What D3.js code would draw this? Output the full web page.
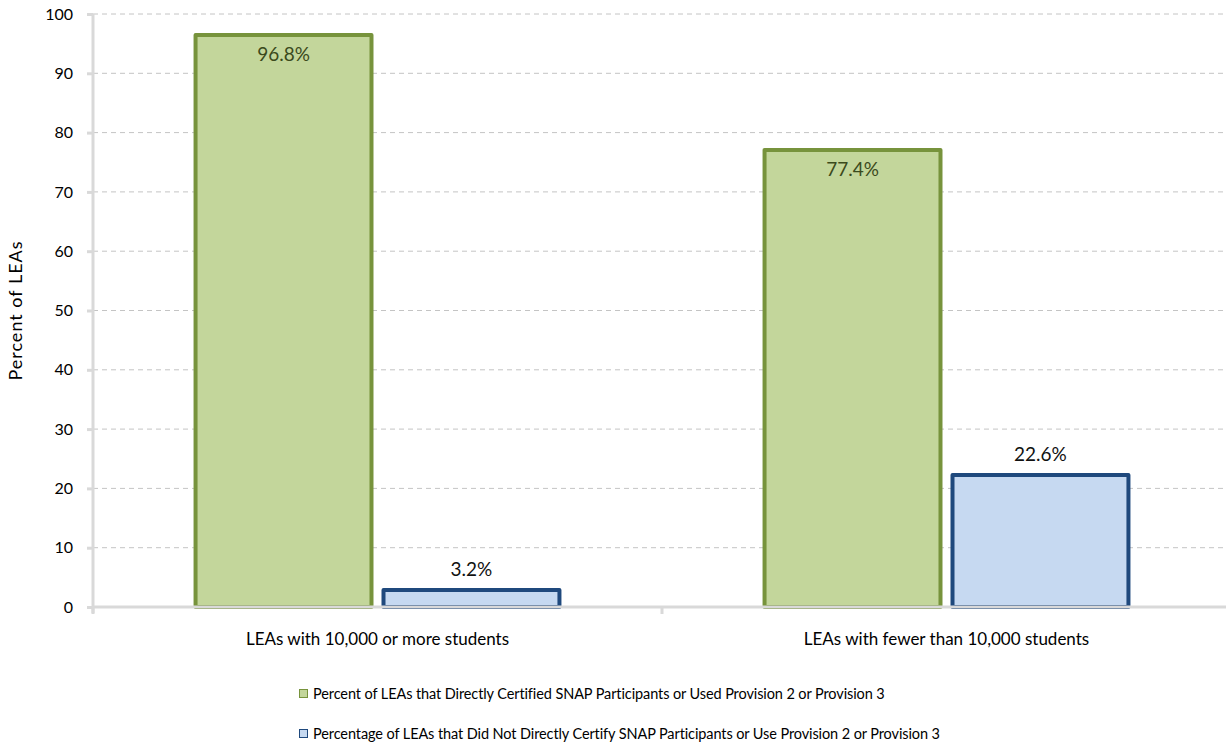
<!DOCTYPE html>
<html>
<head>
<meta charset="utf-8">
<script src="https://cdn.jsdelivr.net/npm/d3@7/dist/d3.min.js"></script>
<style>
  html, body { margin: 0; padding: 0; background: #fff; }
  svg { display: block; font-family: Lato, "Open Sans", sans-serif; }
</style>
</head>
<body>
<svg id="chart" width="1226" height="746"></svg>
<script>
// Chart data
const categories = ["LEAs with 10,000 or more students", "LEAs with fewer than 10,000 students"];
const seriesNames = [
  "Percent of LEAs that Directly Certified SNAP Participants or Used Provision 2 or Provision 3",
  "Percentage of LEAs that Did Not Directly Certify SNAP Participants or Use Provision 2 or Provision 3"
];
const certifiedValues = [96.8, 77.4];
const notCertifiedValues = [3.2, 22.6];
const yTicks = [0, 10, 20, 30, 40, 50, 60, 70, 80, 90, 100];

const seriesStyle = [
  { fill: "#c3d69b", stroke: "#77933c", label: "#3b4a1c", inside: true },
  { fill: "#c6d9f1", stroke: "#1f497d", label: "#111111", inside: false }
];
const seriesValues = [certifiedValues, notCertifiedValues];

const svg = d3.select("#chart");
const margin = { left: 93, right: -5, top: 14, bottom: 139 };
const W = 1226, H = 746;

const x0 = d3.scaleBand().domain(categories).range([margin.left, W - margin.right]).paddingInner(0).paddingOuter(0);
const x1 = d3.scaleBand().domain([0, 1]).range([0, x0.bandwidth()]).paddingInner(0.0426).paddingOuter(0.535);
const y = d3.scaleLinear().domain([0, 100]).range([H - margin.bottom, margin.top]);

// Gridlines
svg.append("g").selectAll("line").data(yTicks.filter(d => d > 0)).join("line")
  .attr("x1", margin.left).attr("x2", W)
  .attr("y1", d => y(d)).attr("y2", d => y(d))
  .attr("stroke", "#c4c4c4").attr("stroke-width", 1).attr("stroke-dasharray", "5,4");

// Y axis
const yAxis = svg.append("g").attr("transform", `translate(${margin.left},0)`)
  .call(d3.axisLeft(y).tickValues(yTicks).tickSize(6).tickPadding(14));
yAxis.select(".domain").remove();
yAxis.selectAll(".tick line").attr("stroke", "#d9d9d9").attr("stroke-width", 3);
yAxis.selectAll(".tick text").attr("font-size", 16).attr("fill", "#000").attr("font-family", "Lato, sans-serif");
svg.append("line").attr("x1", margin.left).attr("x2", margin.left)
  .attr("y1", y(100)).attr("y2", y(0) + 6)
  .attr("stroke", "#d9d9d9").attr("stroke-width", 3);

// Bars
const groups = svg.append("g").selectAll("g").data(categories).join("g")
  .attr("transform", d => `translate(${x0(d)},0)`);

const bw = 4;
groups.each(function(cat, ci) {
  const g = d3.select(this);
  seriesValues.forEach((vals, si) => {
    const v = vals[ci];
    const st = seriesStyle[si];
    g.append("rect")
      .attr("x", x1(si) + bw / 2)
      .attr("y", y(v) + bw / 2)
      .attr("width", x1.bandwidth() - bw)
      .attr("height", y(0) - y(v) - bw / 2)
      .attr("fill", st.fill).attr("stroke", st.stroke).attr("stroke-width", bw)
      .attr("stroke-linejoin", "round");
    g.append("text")
      .attr("x", x1(si) + x1.bandwidth() / 2)
      .attr("y", st.inside ? y(v) + 28 : y(v) - 12)
      .attr("text-anchor", "middle")
      .attr("font-size", 19)
      .attr("fill", st.label)
      .text(v.toFixed(1) + "%");
  });
});

// X axis
svg.append("line").attr("x1", margin.left).attr("x2", W)
  .attr("y1", y(0)).attr("y2", y(0))
  .attr("stroke", "#d9d9d9").attr("stroke-width", 3);
svg.append("g").selectAll("line").data([x0.range()[0], x0(categories[1])]).join("line")
  .attr("x1", d => d).attr("x2", d => d)
  .attr("y1", y(0)).attr("y2", y(0) + 7)
  .attr("stroke", "#d9d9d9").attr("stroke-width", 3);
svg.append("g").selectAll("text").data(categories).join("text")
  .attr("x", d => x0(d) + x0.bandwidth() / 2)
  .attr("y", 645)
  .attr("text-anchor", "middle")
  .attr("font-size", 17)
  .attr("fill", "#000")
  .text(d => d);

// Y axis title
svg.append("text")
  .attr("transform", `translate(22,${(y(0) + y(100)) / 2}) rotate(-90)`)
  .attr("text-anchor", "middle")
  .attr("font-size", 18)
  .attr("letter-spacing", 1)
  .attr("fill", "#000")
  .text("Percent of LEAs");

// Legend
const legend = svg.append("g").selectAll("g").data(seriesNames).join("g")
  .attr("transform", (d, i) => `translate(299,${689 + i * 40})`);
legend.append("rect").attr("x", 0.5).attr("y", 0.5).attr("width", 8).attr("height", 8)
  .attr("fill", (d, i) => seriesStyle[i].fill)
  .attr("stroke", (d, i) => seriesStyle[i].stroke).attr("stroke-width", 1);
legend.append("text").attr("x", 14).attr("y", 10)
  .attr("font-size", 14.5).attr("fill", "#000")
  .attr("letter-spacing", -0.1)
  .text(d => d);
</script>
</body>
</html>
